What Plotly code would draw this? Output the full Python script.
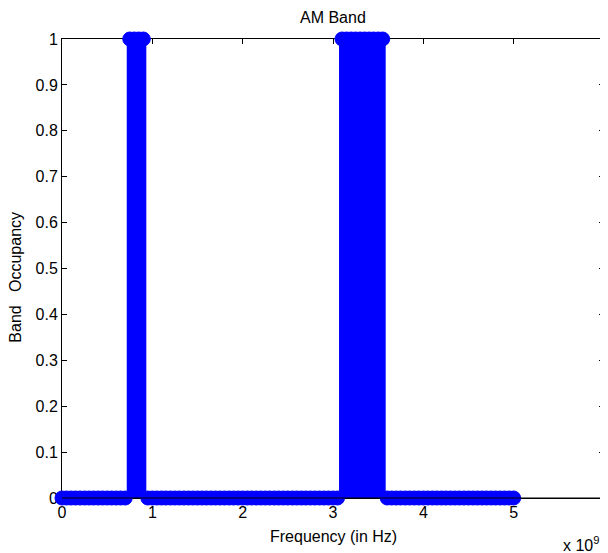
import plotly.graph_objects as go

# ---- data ----
# frequency sample grid (GHz), 0.05 GHz steps from 0 to 5 GHz
freq_ghz = [round(i * 0.05, 2) for i in range(101)]
# band occupancy at each sample (1 = occupied)
occupancy = ([0] * 15      # 0.00 .. 0.70
             + [1] * 4     # 0.75 .. 0.90
             + [0] * 43    # 0.95 .. 3.05
             + [1] * 10    # 3.10 .. 3.55
             + [0] * 29)   # 3.60 .. 5.00
x_tick_vals = [0, 1, 2, 3, 4, 5, 6]
x_tick_text = ["0", "1", "2", "3", "4", "5", "6"]
y_tick_vals = [0, 0.1, 0.2, 0.3, 0.4, 0.5, 0.6, 0.7, 0.8, 0.9, 1]
y_tick_text = ["0", "0.1", "0.2", "0.3", "0.4", "0.5", "0.6", "0.7", "0.8", "0.9", "1"]

freq_hz = [f * 1e9 for f in freq_ghz]

# derive occupied runs (for the solid vertical fill of the dense transitions)
bar_x, bar_w = [], []
i = 0
n = len(occupancy)
while i < n:
    if occupancy[i] == 1:
        j = i
        while j + 1 < n and occupancy[j + 1] == 1:
            j += 1
        left = (freq_hz[i] + freq_hz[i - 1]) / 2 if i > 0 else freq_hz[i]
        right = (freq_hz[j] + freq_hz[j + 1]) / 2 if j + 1 < n else freq_hz[j]
        bar_x.append((left + right) / 2)
        bar_w.append(right - left)
        i = j + 1
    else:
        i += 1

BLUE = "#0000FF"
FONT = "Liberation Sans, Arial, sans-serif"

fig = go.Figure()
fig.add_trace(go.Bar(x=bar_x, y=[1] * len(bar_x), width=bar_w, base=0,
                     marker=dict(color=BLUE, line=dict(width=0)),
                     showlegend=False, hoverinfo="skip"))
fig.add_trace(go.Scatter(x=freq_hz, y=occupancy, mode="lines+markers",
                         line=dict(color=BLUE, width=1.5, shape="hvh"),
                         marker=dict(symbol="circle", size=14, color=BLUE,
                                     line=dict(color=BLUE, width=1)),
                         cliponaxis=False, showlegend=False))

# page body has an 8px margin, so the figure is 8px smaller and offset
fig.update_layout(
    width=600, height=545,
    margin=dict(l=54, r=4, t=31, b=55),
    paper_bgcolor="white", plot_bgcolor="white",
    font=dict(family=FONT, size=16, color="black"),
    showlegend=False,
    bargap=0,
)
fig.update_xaxes(
    range=[0, 6e9], tickvals=[v * 1e9 for v in x_tick_vals], ticktext=x_tick_text,
    showgrid=False, zeroline=False, showline=True, linecolor="black", linewidth=1,
    mirror="ticks", ticks="inside", ticklen=5, tickcolor="black",
    layer="below traces", tickfont=dict(size=16),
)
fig.update_yaxes(
    range=[0, 1], tickvals=y_tick_vals, ticktext=y_tick_text,
    showgrid=False, zeroline=False, showline=True, linecolor="black", linewidth=1,
    mirror="ticks", ticks="inside", ticklen=5, tickcolor="black",
    layer="below traces", tickfont=dict(size=16),
)
# bottom axis line drawn over the data, as in the original
fig.add_shape(type="line", xref="paper", yref="paper", x0=0, x1=1, y0=0, y1=0,
              line=dict(color="black", width=1), layer="above")

fig.add_annotation(text="AM Band", xref="paper", yref="paper", x=0.5, y=1.0458,
                   xanchor="center", yanchor="middle", showarrow=False,
                   font=dict(size=16))
fig.add_annotation(text="Frequency (in Hz)", xref="paper", yref="paper", x=0.5, y=-0.083,
                   xanchor="center", yanchor="middle", showarrow=False,
                   font=dict(size=16))
fig.add_annotation(text="Band   Occupancy", xref="paper", yref="paper", x=-0.085, y=0.482,
                   xanchor="center", yanchor="middle", textangle=-90, showarrow=False,
                   font=dict(size=16))
fig.add_annotation(text="x 10<sup>9</sup>", xref="paper", yref="paper", x=1.0, y=-0.1175,
                   xanchor="right", yanchor="bottom", xshift=-3, yshift=-4,
                   showarrow=False, font=dict(size=16))

fig.write_html("out.html")
